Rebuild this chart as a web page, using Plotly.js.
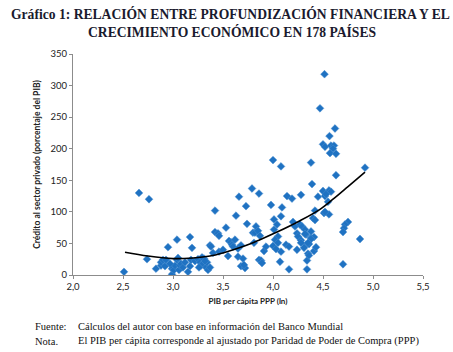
<!DOCTYPE html>
<html>
<head>
<meta charset="utf-8">
<script src="https://cdn.plot.ly/plotly-3.0.1.min.js"></script>
<style>html,body{margin:0;padding:0;background:#fff;}#chart{width:453px;height:352px;}</style>
</head>
<body>
<div id="chart"></div>
<script>
// PIB per cápita PPP (ln)
const pibLn = [
 2.51,2.66,2.76,2.74,2.83,2.88,2.88,2.90,2.92,2.93,2.95,2.99,2.99,3.00,3.01,3.02,3.04,3.04,3.06,3.07,
 3.08,3.10,3.15,3.17,3.17,3.18,3.19,3.22,3.25,3.27,3.28,3.30,3.31,3.33,3.34,3.35,3.26,3.29,3.32,3.37,
 3.38,3.37,3.40,3.42,3.42,3.45,3.46,3.46,2.97,3.05,3.12,
 3.53,3.56,3.58,3.59,3.62,3.60,3.63,3.65,3.66,3.68,3.65,3.70,3.68,3.72,3.71,3.73,3.74,3.79,3.86,3.80,
 3.82,3.81,3.83,3.85,3.87,3.86,3.88,3.89,3.91,3.98,4.00,4.08,3.50,3.55,3.93,
 4.01,4.04,4.08,4.01,4.05,4.02,4.05,4.00,4.03,4.07,4.08,4.09,4.13,4.16,4.16,4.14,4.19,4.20,4.22,4.24,
 4.25,4.27,4.29,4.32,4.33,4.33,4.34,4.24,4.35,4.38,4.38,4.28,4.39,4.38,4.28,4.28,4.31,4.36,4.34,4.36,
 4.41,4.41,4.38,4.35,4.32,
 4.515,4.47,4.62,4.565,4.50,4.52,4.58,4.61,4.60,4.57,4.63,4.63,4.92,4.50,4.56,4.58,4.45,4.52,4.55,4.42,
 4.51,4.56,4.40,4.42,4.75,4.72,4.71,4.70,4.87,4.70,4.43,4.52,4.53
];
// Crédito al sector privado (porcentaje del PIB)
const credito = [
 5,130,120,25,10,15,20,24,14,24,44,1,10,12,8,15,56,24,8,15,
 18,12,5,60,14,24,43,22,25,20,15,18,26,12,20,8,12,28,22,47,
 45,12,35,102,68,66,62,37,18,27,20,
 75,54,52,48,56,45,94,42,124,47,29,26,14,11,16,109,81,137,129,67,
 67,51,77,70,62,24,23,19,38,111,182,172,40,30,45,
 88,80,93,72,61,56,51,46,41,21,37,107,48,45,9,125,121,84,77,66,
 61,80,77,72,64,48,9,40,34,69,59,127,144,178,55,51,43,49,23,31,
 38,60,57,51,65,
 318,264,232,220,207,203,205,205,200,193,192,158,170,133,134,132,124,125,116,102,
 98,96,90,87,84,80,74,68,57,17,44,100,128
];
// Línea de tendencia
const tendX = [2.52,2.75,3.00,3.20,3.37,3.50,3.70,3.87,4.04,4.27,4.47,4.60,4.75,4.92];
const tendY = [36,30,26,27,30,35,45,56,68,86,104,120,140,163];

const xTicks = [2.0,2.5,3.0,3.5,4.0,4.5,5.0,5.5];
const yTicks = [0,50,100,150,200,250,300,350];

const data = [
 {x: pibLn, y: credito, type: 'scatter', mode: 'markers',
  marker: {symbol: 'diamond', size: 6, color: '#1f72c2', line: {color: '#4a8fd0', width: 0.5}},
  hoverinfo: 'none'},
 {x: tendX, y: tendY, type: 'scatter', mode: 'lines',
  line: {color: '#000000', width: 1.6, shape: 'spline', smoothing: 1}, hoverinfo: 'none'}
];

const serif = 'Liberation Serif, Times New Roman, serif';
const sans = 'Lato, Open Sans, sans-serif';

const layout = {
 width: 453, height: 352,
 margin: {l: 73, r: 30, t: 54, b: 77},
 paper_bgcolor: '#ffffff', plot_bgcolor: '#ffffff',
 showlegend: false,
 separators: ',.',
 xaxis: {range: [2, 5.5], tickvals: xTicks, tickformat: '.1f', showgrid: false, zeroline: false,
   showline: true, linecolor: '#8c8c8c', linewidth: 1, ticks: 'outside', ticklen: 3, tickcolor: '#8c8c8c',
   tickfont: {family: sans, size: 9.5, color: '#222'},
   title: {text: '<b>PIB per cápita PPP (ln)</b>', font: {family: sans, size: 8, color: '#222'}, standoff: 6}},
 yaxis: {range: [0, 350], tickvals: yTicks, showgrid: false, zeroline: false,
   showline: true, linecolor: '#8c8c8c', linewidth: 1, ticks: 'outside', ticklen: 3, tickcolor: '#8c8c8c',
   tickfont: {family: sans, size: 9.5, color: '#222'},
   title: {text: '<b>Crédito al sector privado (porcentaje del PIB)</b>', font: {family: sans, size: 8.5, color: '#222'}, standoff: 8}},
 annotations: [
  {text: '<b>Gráfico 1: RELACIÓN ENTRE PROFUNDIZACIÓN FINANCIERA Y EL</b>', xref: 'paper', yref: 'paper', x: 0.451, y: 1.181,
   xanchor: 'center', yanchor: 'middle', showarrow: false, font: {family: serif, size: 13.6, color: '#1a1a2e'}},
  {text: '<b>CRECIMIENTO ECONÓMICO EN 178 PAÍSES</b>', xref: 'paper', yref: 'paper', x: 0.454, y: 1.0995,
   xanchor: 'center', yanchor: 'middle', showarrow: false, font: {family: serif, size: 13.6, color: '#1a1a2e'}},
  {text: 'Fuente:', xref: 'paper', yref: 'paper', x: -0.114, y: -0.235, xanchor: 'left', yanchor: 'middle', showarrow: false,
   font: {family: serif, size: 10.5, color: '#111'}},
  {text: 'Cálculos del autor con base en información del Banco Mundial', xref: 'paper', yref: 'paper', x: 0.009, y: -0.235,
   xanchor: 'left', yanchor: 'middle', showarrow: false, font: {family: serif, size: 10.5, color: '#111'}},
  {text: 'Nota.', xref: 'paper', yref: 'paper', x: -0.114, y: -0.299, xanchor: 'left', yanchor: 'middle', showarrow: false,
   font: {family: serif, size: 10.5, color: '#111'}},
  {text: 'El PIB per cápita corresponde al ajustado por Paridad de Poder de Compra (PPP)', xref: 'paper', yref: 'paper', x: 0.009, y: -0.299,
   xanchor: 'left', yanchor: 'middle', showarrow: false, font: {family: serif, size: 10.5, color: '#111'}}
 ]
};

Plotly.newPlot('chart', data, layout, {staticPlot: true, displayModeBar: false});
</script>
</body>
</html>
